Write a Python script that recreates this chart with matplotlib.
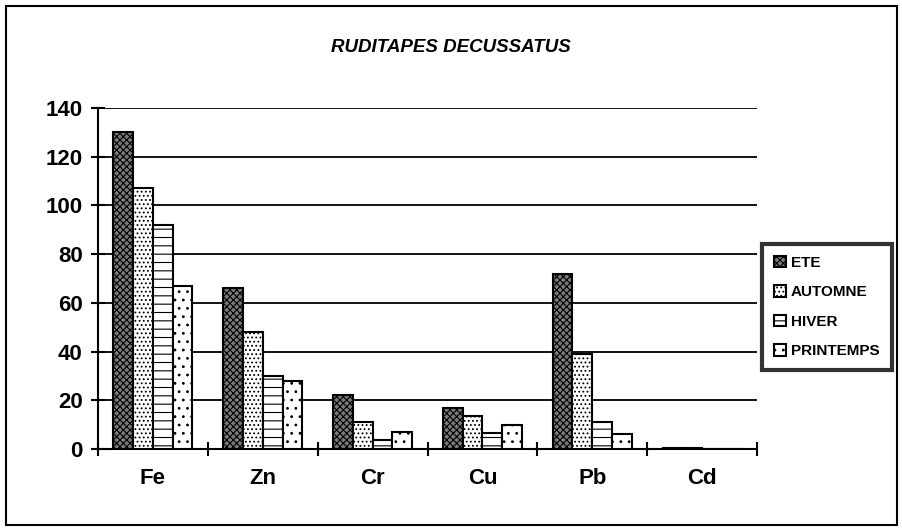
import numpy as np
import matplotlib.pyplot as plt
from matplotlib.patches import Rectangle

plt.rcParams['font.family'] = ['Liberation Sans', 'DejaVu Sans']
plt.rcParams['hatch.linewidth'] = 0.8

# ── data ──────────────────────────────────────────────────────────────
metals = ["Fe", "Zn", "Cr", "Cu", "Pb", "Cd"]
ete = [130, 66, 22, 17, 72, 0.5]
automne = [107, 48, 11, 13.5, 39, 0.3]
hiver = [92, 30, 3.5, 6.5, 11, 0.2]
printemps = [67, 28, 7, 10, 6, 0.2]

series = [
    ("ETE", ete, "#7a7a7a", "xxxxx"),
    ("AUTOMNE", automne, "white", "...."),
    ("HIVER", hiver, "white", "--"),
    ("PRINTEMPS", printemps, "white", ".."),
]

fig = plt.figure(figsize=(9.02, 5.31), dpi=100)
ax = fig.add_axes([98 / 902, 1 - 449 / 531, (757 - 98) / 902, (449 - 108) / 531])

x = np.arange(len(metals))
width = 0.18
handles = []
for i, (name, vals, fc, hatch) in enumerate(series):
    bars = ax.bar(x - 1.5 * width + i * width, vals, width, facecolor=fc,
                  edgecolor="black", hatch=hatch, linewidth=1.5, label=name,
                  zorder=3)
    handles.append(bars)

ax.set_xlim(-0.5, len(metals) - 0.5)
ax.set_ylim(0, 140)
ax.set_yticks(range(0, 141, 20))
ax.yaxis.grid(True, color="black", linewidth=1.3, zorder=0)
ax.set_axisbelow(True)

ax.set_xticks(x)
ax.set_xticklabels(metals, fontsize=16, fontweight="bold")
ax.set_xticks(np.arange(-0.5, len(metals) - 0.4, 1), minor=True)
ax.tick_params(axis="x", which="major", length=0, pad=14)
ax.tick_params(axis="x", which="minor", direction="inout", length=10, width=1.5)
ax.tick_params(axis="y", direction="inout", length=10, width=1.5,
               labelsize=16, pad=6)
for lbl in ax.get_yticklabels():
    lbl.set_fontweight("bold")

for side in ("top", "right"):
    ax.spines[side].set_visible(False)
for side in ("left", "bottom"):
    ax.spines[side].set_linewidth(1.5)

fig.text(0.5, 1 - 47 / 531, "RUDITAPES DECUSSATUS", ha="center", va="center",
         fontsize=13.5, fontweight="bold", fontstyle="italic")

leg = fig.legend(handles=handles, loc="center left",
                 bbox_to_anchor=(762 / 902, 1 - 307 / 531),
                 fontsize=11, fancybox=False,
                 edgecolor="black", handlelength=0.8, handleheight=0.8,
                 handletextpad=0.3, labelspacing=1.0, borderpad=0.8,
                 borderaxespad=0)
leg.get_frame().set_linewidth(3)
for t in leg.get_texts():
    t.set_fontweight("bold")

# outer chart border
fig.patches.append(Rectangle((6 / 902, 6 / 531), 891 / 902, 519 / 531,
                             transform=fig.transFigure, fill=False,
                             edgecolor="black", linewidth=1.5))

fig.savefig("out.png", dpi=100)
